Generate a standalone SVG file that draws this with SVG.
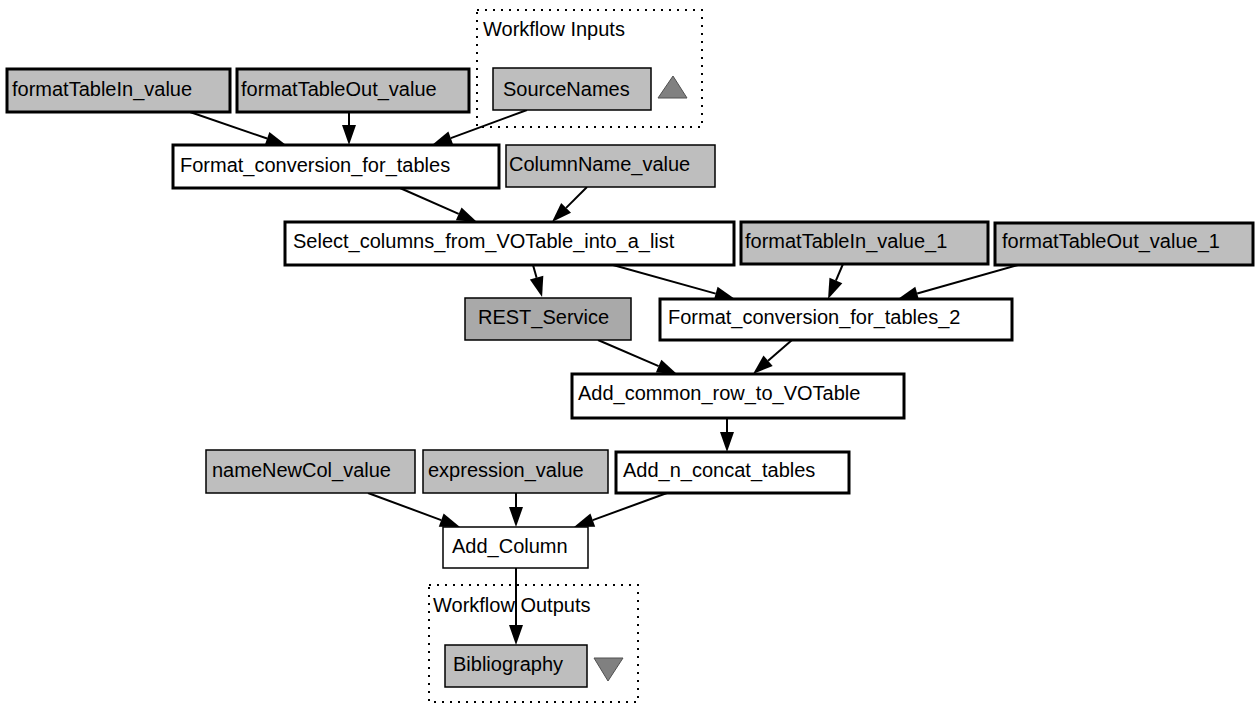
<svg xmlns="http://www.w3.org/2000/svg" width="1257" height="704" viewBox="0 0 1257 704">
<style>
  text { font-family: "Liberation Sans", Arial, sans-serif; font-size: 20px; fill: #000; }
  .thick { stroke: #000; stroke-width: 3; }
  .thin { stroke: #000; stroke-width: 1.5; }
  .lg { fill: #bebebe; }
  .dg { fill: #a9a9a9; }
  .wh { fill: #fff; }
  .cluster { fill: none; stroke: #000; stroke-width: 2; stroke-dasharray: 2 6; }
  .edge { fill: none; stroke: #000; stroke-width: 2; marker-end: url(#arr); }
  .tri { fill: #808080; stroke: #505050; stroke-width: 1; }
</style>
<defs>
  <marker id="arr" markerUnits="userSpaceOnUse" markerWidth="20" markerHeight="14" refX="0" refY="7" orient="auto" overflow="visible">
    <path d="M0,0 L20,7 L0,14 Z" fill="#000"/>
  </marker>
</defs>
<rect width="1257" height="704" fill="#fff"/>

<g id="cluster_inputs">
  <rect class="cluster" x="477" y="10" width="225" height="117"/>
  <text x="483" y="36">Workflow Inputs</text>
  <polygon class="tri" points="658,98 673,76 687,98"/>
</g>
<g id="cluster_outputs">
  <rect class="cluster" x="429" y="585" width="209" height="117"/>
  <text x="433" y="612">Workflow Outputs</text>
  <polygon class="tri" points="594,658 623,658 608,681"/>
</g>

<g id="connectors">
  <line class="edge" x1="190" y1="112" x2="267.1" y2="138.5"/>
  <line class="edge" x1="349" y1="112" x2="349" y2="125"/>
  <line class="edge" x1="527" y1="110" x2="450.8" y2="138.1"/>
  <line class="edge" x1="400" y1="188" x2="458.7" y2="213.9"/>
  <line class="edge" x1="587" y1="187" x2="566.1" y2="207.9"/>
  <line class="edge" x1="533" y1="265" x2="536.6" y2="277.7"/>
  <line class="edge" x1="613" y1="265" x2="715.7" y2="293.6"/>
  <line class="edge" x1="843" y1="264" x2="835.9" y2="280.6"/>
  <line class="edge" x1="1018" y1="265" x2="917.2" y2="293.5"/>
  <line class="edge" x1="598" y1="340" x2="658.6" y2="366.1"/>
  <line class="edge" x1="792" y1="340" x2="768.1" y2="360.8"/>
  <line class="edge" x1="727" y1="418" x2="727" y2="432"/>
  <line class="edge" x1="368" y1="493" x2="441.2" y2="520.1"/>
  <line class="edge" x1="516" y1="493" x2="516" y2="507"/>
  <line class="edge" x1="667" y1="493" x2="592.8" y2="520.1"/>
  <line class="edge" x1="516" y1="568" x2="516" y2="625"/>
</g>

<g id="formatTableIn_value">
  <rect class="thick lg" x="7" y="69" width="223" height="43"/>
  <text x="12" y="96">formatTableIn_value</text>
</g>
<g id="formatTableOut_value">
  <rect class="thick lg" x="237" y="69" width="232" height="43"/>
  <text x="241" y="96">formatTableOut_value</text>
</g>
<g id="SourceNames">
  <rect class="thin lg" x="493" y="68" width="158" height="42"/>
  <text x="503" y="96">SourceNames</text>
</g>
<g id="Format_conversion_for_tables">
  <rect class="thick wh" x="173" y="145" width="326" height="43"/>
  <text x="180" y="172">Format_conversion_for_tables</text>
</g>
<g id="ColumnName_value">
  <rect class="thin lg" x="506" y="145" width="209" height="42"/>
  <text x="509" y="171">ColumnName_value</text>
</g>
<g id="Select_columns_from_VOTable_into_a_list">
  <rect class="thick wh" x="285" y="222" width="449" height="43"/>
  <text x="293" y="248">Select_columns_from_VOTable_into_a_list</text>
</g>
<g id="formatTableIn_value_1">
  <rect class="thick lg" x="741" y="222" width="247" height="42"/>
  <text x="745" y="248">formatTableIn_value_1</text>
</g>
<g id="formatTableOut_value_1">
  <rect class="thick lg" x="995" y="223" width="258" height="42"/>
  <text x="1002" y="248">formatTableOut_value_1</text>
</g>
<g id="REST_Service">
  <rect class="thin dg" x="465" y="298" width="166" height="42"/>
  <text x="478" y="324">REST_Service</text>
</g>
<g id="Format_conversion_for_tables_2">
  <rect class="thick wh" x="660" y="299" width="352" height="41"/>
  <text x="668" y="324">Format_conversion_for_tables_2</text>
</g>
<g id="Add_common_row_to_VOTable">
  <rect class="thick wh" x="572" y="374" width="332" height="44"/>
  <text x="578" y="400">Add_common_row_to_VOTable</text>
</g>
<g id="nameNewCol_value">
  <rect class="thin lg" x="206" y="450" width="209" height="43"/>
  <text x="212" y="477">nameNewCol_value</text>
</g>
<g id="expression_value">
  <rect class="thin lg" x="423" y="450" width="185" height="43"/>
  <text x="428" y="477">expression_value</text>
</g>
<g id="Add_n_concat_tables">
  <rect class="thick wh" x="616" y="452" width="233" height="41"/>
  <text x="623" y="477">Add_n_concat_tables</text>
</g>
<g id="Add_Column">
  <rect class="thin wh" x="443" y="527" width="145" height="41"/>
  <text x="452" y="553">Add_Column</text>
</g>
<g id="Bibliography">
  <rect class="thin lg" x="445" y="645" width="142" height="42"/>
  <text x="453" y="671">Bibliography</text>
</g>
</svg>
